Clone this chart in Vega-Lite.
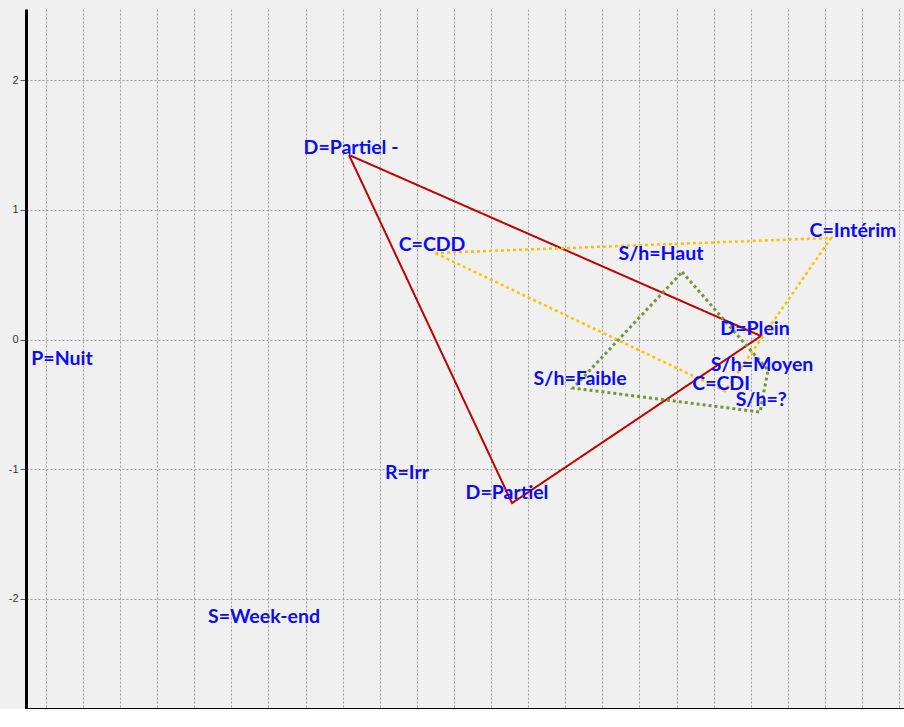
{
  "$schema": "https://vega.github.io/schema/vega-lite/v6.json",
  "width": 878,
  "height": 700,
  "autosize": {"type": "none"},
  "padding": {"left": 26, "top": 9, "right": 0, "bottom": 0},
  "background": "#f0f0f0",
  "config": {
    "view": {"stroke": null},
    "axis": {"labelFont": "Liberation Sans", "labelFontSize": 11, "labelColor": "#333333", "tickColor": "#555555"}
  },
  "datasets": {
    "polys": [
      {"group": "D", "order": 1, "x": -1.766, "y": 1.425},
      {"group": "D", "order": 2, "x": 0.455, "y": 0.027},
      {"group": "D", "order": 3, "x": -0.887, "y": -1.263},
      {"group": "D", "order": 4, "x": -1.766, "y": 1.425},
      {"group": "C", "order": 1, "x": -1.302, "y": 0.668},
      {"group": "C", "order": 2, "x": 0.833, "y": 0.784},
      {"group": "C", "order": 3, "x": 0.261, "y": -0.398},
      {"group": "C", "order": 4, "x": -1.302, "y": 0.668},
      {"group": "S", "order": 1, "x": 0.030, "y": 0.521},
      {"group": "S", "order": 2, "x": 0.493, "y": -0.236},
      {"group": "S", "order": 3, "x": 0.450, "y": -0.560},
      {"group": "S", "order": 4, "x": -0.558, "y": -0.375},
      {"group": "S", "order": 5, "x": 0.030, "y": 0.521}
    ],
    "labels": [
      {"label": "D=Partiel -", "x": -1.755, "y": 1.479},
      {"label": "C=CDD", "x": -1.318, "y": 0.730},
      {"label": "C=Intérim", "x": 0.951, "y": 0.838},
      {"label": "S/h=Haut", "x": -0.084, "y": 0.660},
      {"label": "D=Plein", "x": 0.423, "y": 0.081},
      {"label": "S/h=Moyen", "x": 0.461, "y": -0.197},
      {"label": "S/h=Faible", "x": -0.520, "y": -0.305},
      {"label": "C=CDI", "x": 0.240, "y": -0.344},
      {"label": "S/h=?", "x": 0.456, "y": -0.467},
      {"label": "R=Irr", "x": -1.453, "y": -1.031},
      {"label": "D=Partiel", "x": -0.914, "y": -1.185},
      {"label": "P=Nuit", "x": -3.313, "y": -0.151},
      {"label": "S=Week-end", "x": -2.224, "y": -2.143}
    ]
  },
  "resolve": {"axis": {"x": "independent", "y": "independent"}},
  "layer": [
    {
      "data": {"name": "labels"},
      "mark": {"type": "point", "opacity": 0},
      "encoding": {
        "x": {"field": "x", "type": "quantitative", "scale": {"domain": [-3.507, 1.226], "nice": false, "zero": false},
          "axis": {"values": [-3.4,-3.2,-3,-2.8,-2.6,-2.4,-2.2,-2,-1.8,-1.6,-1.4,-1.2,-1,-0.8,-0.6,-0.4,-0.2,0,0.2,0.4,0.6,0.8,1,1.2],
            "labelExpr": "'' + datum.value", "title": null, "grid": true, "gridDash": [2, 2], "gridColor": "#9a9a9a", "gridWidth": 1,
            "domainColor": "#000000", "domainWidth": 3, "tickSize": 6, "labelPadding": 3, "labelFlush": false, "labelOverlap": false}},
        "y": {"field": "y", "type": "quantitative", "scale": {"domain": [-2.853, 2.552], "nice": false, "zero": false},
          "axis": {"values": [-2, -1, 0, 1, 2], "labelExpr": "'' + datum.value", "title": null, "grid": true, "gridDash": [2, 2], "gridColor": "#9a9a9a", "gridWidth": 1,
            "domainColor": "#000000", "domainWidth": 3, "tickSize": 6, "labelPadding": 2}}
      }
    },
    {
      "mark": {"type": "rule", "color": "#000000", "strokeWidth": 2.5},
      "encoding": {"x": {"datum": 0, "type": "quantitative", "axis": null}}
    },
    {
      "mark": {"type": "rule", "color": "#000000", "strokeWidth": 2.5},
      "encoding": {"y": {"datum": 0, "type": "quantitative", "axis": null}}
    },
    {
      "mark": {"type": "rule", "color": "#000000", "strokeWidth": 2.5},
      "encoding": {"y": {"datum": 2.552, "type": "quantitative", "axis": null}}
    },
    {
      "data": {"name": "polys"},
      "mark": {"type": "line", "strokeCap": "butt", "strokeJoin": "miter"},
      "encoding": {
        "x": {"field": "x", "type": "quantitative", "axis": null},
        "y": {"field": "y", "type": "quantitative", "axis": null},
        "order": {"field": "order"},
        "detail": {"field": "group"},
        "color": {"field": "group", "type": "nominal", "scale": {"domain": ["D", "C", "S"], "range": ["#c00000", "#ffc000", "#77933c"]}, "legend": null},
        "strokeDash": {"field": "group", "type": "nominal", "scale": {"domain": ["D", "C", "S"], "range": [[1, 0], [3, 3], [3, 3]]}, "legend": null},
        "strokeWidth": {"field": "group", "type": "nominal", "scale": {"domain": ["D", "C", "S"], "range": [2, 3, 3]}, "legend": null}
      }
    },
    {
      "data": {"name": "labels"},
      "mark": {"type": "text", "font": "Lato", "fontWeight": "bold", "fontSize": 19.5, "color": "#0a0aff", "align": "center", "baseline": "middle"},
      "encoding": {
        "x": {"field": "x", "type": "quantitative", "axis": null},
        "y": {"field": "y", "type": "quantitative", "axis": null},
        "text": {"field": "label"}
      }
    }
  ]
}
